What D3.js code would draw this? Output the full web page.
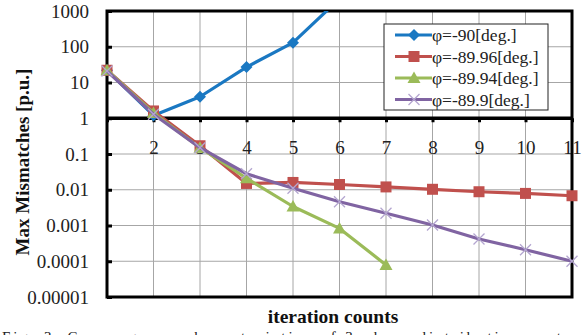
<!DOCTYPE html>
<html>
<head>
<meta charset="utf-8">
<script src="https://cdn.jsdelivr.net/npm/d3@7"></script>
<style>
  body { margin: 0; background: #fff; }
  svg { display: block; font-family: "Liberation Serif", "DejaVu Serif", serif; }
</style>
</head>
<body>
<div id="chart"></div>
<script>
"use strict";
// valeurs
const iterations = [1, 2, 3, 4, 5, 6, 7, 8, 9, 10, 11];
const phi90   = [22, 1.2, 4, 27, 130, 2200];
const phi8996 = [22, 1.6, 0.17, 0.015, 0.016, 0.014, 0.012, 0.0103, 0.0088, 0.0079, 0.0068];
const phi8994 = [22, 1.4, 0.15, 0.021, 0.0034, 0.00083, 0.000079];
const phi899  = [21, 1.3, 0.15, 0.028, 0.011, 0.0046, 0.0022, 0.00103, 0.00042, 0.00021, 0.0001];
const yTicks = [1000, 100, 10, 1, 0.1, 0.01, 0.001, 0.0001, 0.00001];
const yTickLabels = ["1000", "100", "10", "1", "0.1", "0.01", "0.001", "0.0001", "0.00001"];
const xTickLabels = ["", "2", "3", "4", "5", "6", "7", "8", "9", "10", "11"];

const series = [
  {name: "φ=-90[deg.]",    values: phi90,   color: "#1a78c2", marker: "diamond"},
  {name: "φ=-89.96[deg.]", values: phi8996, color: "#c0504d", marker: "square"},
  {name: "φ=-89.94[deg.]", values: phi8994, color: "#9bbb59", marker: "triangle"},
  {name: "φ=-89.9[deg.]",  values: phi899,  color: "#8064a2", marker: "cross"}
];

const W = 587, H = 335;
const plot = {left: 107, right: 572, top: 11, bottom: 297};
const serif = "Liberation Serif";

const svg = d3.select("#chart").append("svg").attr("width", W).attr("height", H);

const x = d3.scaleLinear().domain([1, 11]).range([plot.left, plot.right]);
const y = d3.scaleLog().domain([1e-5, 1000]).range([plot.bottom, plot.top]);

// grille
const grid = svg.append("g").attr("stroke", "#a6a6a6").attr("stroke-width", 1);
grid.selectAll("line.v").data(iterations.slice(1, -1)).enter().append("line")
  .attr("x1", d => x(d)).attr("x2", d => x(d))
  .attr("y1", plot.top).attr("y2", plot.bottom);
grid.selectAll("line.h").data(yTicks.slice(1, -1)).enter().append("line")
  .attr("x1", plot.left).attr("x2", plot.right)
  .attr("y1", d => y(d)).attr("y2", d => y(d));

// axe y (ticks vers l'intérieur)
const yAxis = d3.axisLeft(y).tickValues(yTicks).tickSize(-5).tickPadding(14)
  .tickFormat((d, i) => yTickLabels[i]);
const gy = svg.append("g").attr("transform", `translate(${plot.left},0)`).call(yAxis)
  .attr("font-family", serif);
gy.select(".domain").remove();
gy.selectAll(".tick line").attr("stroke", "#000").attr("stroke-width", 3);
gy.selectAll(".tick text").attr("font-size", "19px").attr("fill", "#222")
  .attr("font-family", serif).attr("x", -18);

// axe x qui croise à 1
const xAxis = d3.axisBottom(x).tickValues(iterations).tickSize(4).tickPadding(18)
  .tickFormat((d, i) => xTickLabels[i]);
const gx = svg.append("g").attr("transform", `translate(0,${y(1)})`).call(xAxis)
  .attr("font-family", serif);
gx.select(".domain").attr("stroke", "#000").attr("stroke-width", 3.5).attr("d", `M${plot.left},0H${plot.right}`);
gx.selectAll(".tick line").attr("stroke", "#000").attr("stroke-width", 3);
gx.selectAll(".tick text").attr("font-size", "19px").attr("fill", "#222")
  .attr("font-family", serif);

// cadre
svg.append("rect").attr("x", plot.left).attr("y", plot.top)
  .attr("width", plot.right - plot.left).attr("height", plot.bottom - plot.top)
  .attr("fill", "none").attr("stroke", "#000").attr("stroke-width", 3);

svg.append("clipPath").attr("id", "clipPlot").append("rect")
  .attr("x", plot.left - 8).attr("y", plot.top)
  .attr("width", plot.right - plot.left + 16).attr("height", plot.bottom - plot.top);

function markerPath(type) {
  switch (type) {
    case "diamond": return "M0,-6L6,0L0,6L-6,0Z";
    case "square": return "M-5.5,-5.5H5.5V5.5H-5.5Z";
    case "triangle": return "M0,-6.5L6.5,5L-6.5,5Z";
    case "cross": return "M-5.5,-5.5L5.5,5.5M5.5,-5.5L-5.5,5.5";
  }
}
function drawMarker(g, s) {
  const p = g.append("path").attr("d", markerPath(s.marker));
  if (s.marker === "cross") p.attr("stroke", "#b4a6d0").attr("stroke-width", 1.3).attr("fill", "none");
  else p.attr("fill", s.color).attr("stroke", "none");
}

const line = d3.line().x((d, i) => x(iterations[i])).y(d => y(d));
const gData = svg.append("g").attr("clip-path", "url(#clipPlot)");
series.forEach(s => {
  gData.append("path").datum(s.values).attr("d", line)
    .attr("fill", "none").attr("stroke", s.color).attr("stroke-width", 3.2)
    .attr("stroke-linejoin", "round");
  gData.selectAll(null).data(s.values).enter().append("g")
    .attr("transform", (d, i) => `translate(${x(iterations[i])},${y(d)})`)
    .each(function () { drawMarker(d3.select(this), s); });
});

// légende
const leg = svg.append("g").attr("transform", "translate(384,24)");
leg.append("rect").attr("width", 164).attr("height", 86)
  .attr("fill", "#fff").attr("stroke", "#222").attr("stroke-width", 1);
series.forEach((s, i) => {
  const row = leg.append("g").attr("transform", `translate(0,${11 + i * 21.5})`);
  row.append("line").attr("x1", 11).attr("x2", 48).attr("stroke", s.color).attr("stroke-width", 3.2);
  drawMarker(row.append("g").attr("transform", "translate(30,0)"), s);
  row.append("text").attr("x", 48).attr("y", 6).attr("font-size", "17.5px").attr("fill", "#222")
    .attr("font-family", serif).text(s.name);
});

// titres
svg.append("text").attr("transform", `translate(29,162) rotate(-90)`)
  .attr("text-anchor", "middle").attr("font-weight", "bold").attr("font-size", "19px")
  .attr("font-family", serif).attr("fill", "#111").text("Max Mismatches [p.u.]");
svg.append("text").attr("x", 333).attr("y", 323)
  .attr("text-anchor", "middle").attr("font-weight", "bold").attr("font-size", "19.5px")
  .attr("font-family", serif).attr("fill", "#111").text("iteration counts");

// légende de figure, coupée en bas comme sur l'original
svg.append("text").attr("x", 2).attr("y", 342).attr("font-size", "15px").attr("fill", "#222")
  .attr("font-family", serif).attr("textLength", 583).attr("lengthAdjust", "spacing")
  .text("Fig. 3.  Convergence  characteristics  of  3-phase  distribution  system");
</script>
</body>
</html>
